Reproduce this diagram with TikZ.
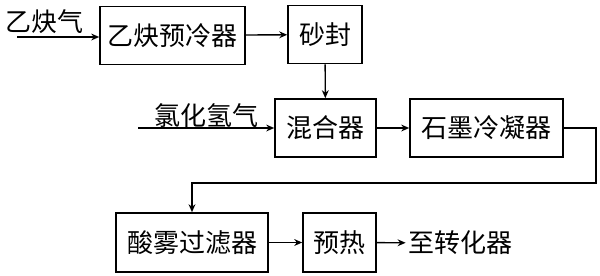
\documentclass[tikz,border=0pt]{standalone}
\usepackage{fontspec}
\newfontfamily\cjk{Noto Sans CJK SC}
\usetikzlibrary{arrows.meta, positioning}

\begin{document}
\begin{tikzpicture}[
  x=0.5pt, y=-0.5pt,
  font=\cjk\fontsize{13}{15}\selectfont,
  unit/.style={draw, line width=0.8pt, minimum height=29pt, inner sep=2pt},
  a/.style={-{Stealth[length=1.4mm,width=1.2mm]}, line width=0.7pt}
]
\useasboundingbox (0,0) rectangle (600,275);

\node[unit,minimum width=72.5pt] (precool) at (172.5,35.5) {乙炔预冷器};
\node[unit,minimum width=37pt]   (sandseal) at (325,34.5) {砂封};
\node[unit,minimum width=50.5pt] (mixer) at (325.5,128) {混合器};
\node[unit,minimum width=76.5pt] (condenser) at (486.5,128) {石墨冷凝器};
\node[unit,minimum width=76pt,minimum height=29.5pt] (filter) at (192,242.5) {酸雾过滤器};
\node[unit,minimum width=36.5pt,minimum height=29.5pt] (preheat) at (339.5,242.5) {预热};
\node[inner sep=1pt] (toconv) at (460,243) {至转化器};

% feed gases
\node (acet) at (44,22) {乙炔气};
\node (hcl) at (206,116) {氯化氢气};
\coordinate (acetin) at (17,37);
\coordinate (hclin) at (138,128);
\draw[a] (acetin) -- (acetin -| precool.west);
\draw[a] (hclin) -- (hclin -| mixer.west);

\draw[a] (precool) -- (sandseal);
\draw[a] (sandseal) -- (mixer);
\draw[a] (mixer) -- (condenser);
\draw[a] (condenser.east) -- ++(32,0) |- (192,183) -- (filter.north);
\draw[a] (filter) -- (preheat);
\draw[a] (preheat) -- (toconv);
\end{tikzpicture}
\end{document}
